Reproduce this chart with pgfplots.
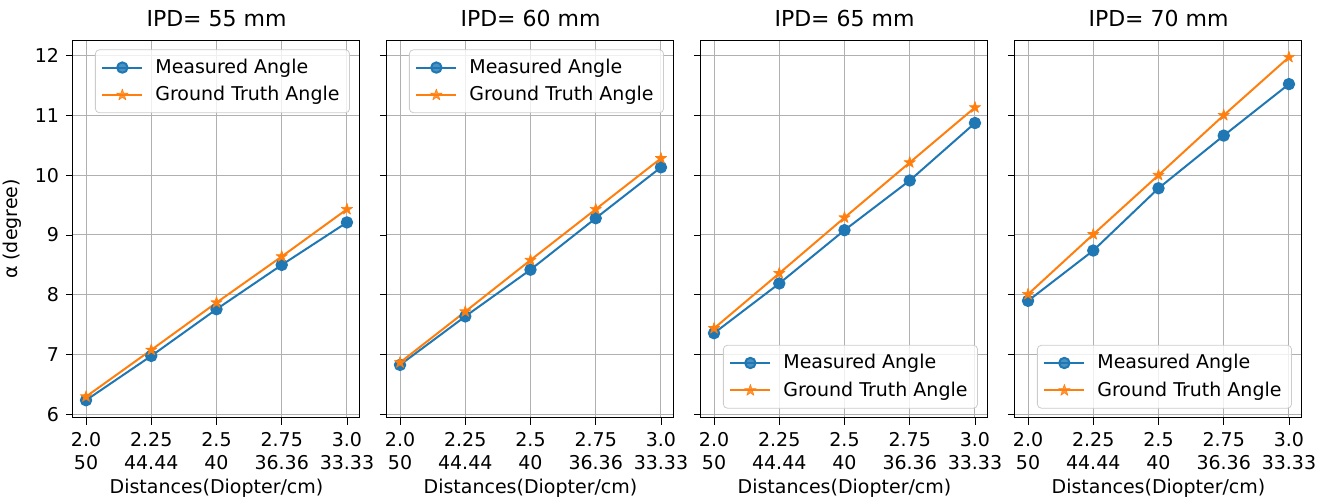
\documentclass[border=0pt]{standalone}
\usepackage{fontspec}
\setmainfont{DejaVu Sans}
\usepackage{pgfplots}
\pgfplotsset{compat=1.18}
\usepgfplotslibrary{groupplots}
\usetikzlibrary{calc}
\definecolor{mplblue}{HTML}{1F77B4}
\definecolor{mplorange}{HTML}{FF7F0E}
\newcommand{\fs}{\fontsize{9.5}{11.5}\selectfont}
\pgfdeclareplotmark{fstar}{%
  \pgfpathmoveto{\pgfpointpolar{90}{\pgfplotmarksize}}%
  \pgfpathlineto{\pgfpointpolar{126}{0.38\pgfplotmarksize}}%
  \pgfpathlineto{\pgfpointpolar{162}{\pgfplotmarksize}}%
  \pgfpathlineto{\pgfpointpolar{198}{0.38\pgfplotmarksize}}%
  \pgfpathlineto{\pgfpointpolar{234}{\pgfplotmarksize}}%
  \pgfpathlineto{\pgfpointpolar{270}{0.38\pgfplotmarksize}}%
  \pgfpathlineto{\pgfpointpolar{306}{\pgfplotmarksize}}%
  \pgfpathlineto{\pgfpointpolar{342}{0.38\pgfplotmarksize}}%
  \pgfpathlineto{\pgfpointpolar{18}{\pgfplotmarksize}}%
  \pgfpathlineto{\pgfpointpolar{54}{0.38\pgfplotmarksize}}%
  \pgfpathclose
  \pgfusepathqfillstroke}
\pgfplotsset{
  meas/.style={color=mplblue,line width=1pt,mark=*,mark size=2.6pt,mark options={solid,fill=mplblue}},
  gt/.style={color=mplorange,line width=1pt,mark=fstar,mark size=3pt,mark options={solid,fill=mplorange,line width=0.3pt}},
}
\begin{document}
\begin{tikzpicture}
\begin{groupplot}[
  group style={group size=4 by 1, horizontal sep=13.5pt, y descriptions at=edge left},
  scale only axis, width=143.5pt, height=189pt,
  xmin=1.95, xmax=3.05, ymin=5.943, ymax=12.257,
  xtick={2,2.25,2.5,2.75,3},
  xticklabels={{2.0\\50},{2.25\\44.44},{2.5\\40},{2.75\\36.36},{3.0\\33.33}},
  xticklabel style={align=center,font=\fs},
  ytick={6,7,8,9,10,11,12},
  yticklabel style={font=\fs},
  /pgf/number format/assume math mode=true,
  tick pos=left, tick align=outside, major tick length=3.5pt,
  tick style={black,line width=0.4pt},
  grid=major, major grid style={line width=0.5pt,draw=black!31},
  axis line style={line width=0.5pt},
  xlabel={Distances(Diopter/cm)},
  xlabel style={font=\fs,yshift=2pt},
  ylabel={α (degree)},
  ylabel style={font=\fs},
  title style={font=\fontsize{11}{13}\selectfont,at={(0.5,1)},anchor=base,yshift=1pt},
  legend style={font=\fs,draw=black!20,rounded corners=2pt,
    fill=white,fill opacity=0.8,text opacity=1,inner xsep=3pt,inner ysep=2.5pt,row sep=1pt,
    /tikz/column 1/.style={column sep=4pt}},
  legend cell align=left,
  legend image code/.code={\draw[mark repeat=2,mark phase=2] plot coordinates {(0pt,0pt) (10pt,0pt) (20pt,0pt)};},
  every axis plot/.append style={line join=round},
]
\nextgroupplot[title={IPD= 55 mm},legend style={at={(0.965,0.975)},anchor=north east}]
\addplot[meas] coordinates {(2.0,6.24) (2.25,6.98) (2.5,7.76) (2.75,8.50) (3.0,9.21)};
\addlegendentry{Measured Angle}
\addplot[gt] coordinates {(2.0,6.30) (2.25,7.08) (2.5,7.87) (2.75,8.64) (3.0,9.43)};
\addlegendentry{Ground Truth Angle}
\nextgroupplot[title={IPD= 60 mm},legend style={at={(0.965,0.975)},anchor=north east}]
\addplot[meas] coordinates {(2.0,6.83) (2.25,7.64) (2.5,8.42) (2.75,9.28) (3.0,10.13)};
\addlegendentry{Measured Angle}
\addplot[gt] coordinates {(2.0,6.87) (2.25,7.72) (2.5,8.58) (2.75,9.43) (3.0,10.28)};
\addlegendentry{Ground Truth Angle}
\nextgroupplot[title={IPD= 65 mm},legend style={at={(0.965,0.025)},anchor=south east}]
\addplot[meas] coordinates {(2.0,7.36) (2.25,8.19) (2.5,9.08) (2.75,9.91) (3.0,10.87)};
\addlegendentry{Measured Angle}
\addplot[gt] coordinates {(2.0,7.44) (2.25,8.36) (2.5,9.29) (2.75,10.21) (3.0,11.13)};
\addlegendentry{Ground Truth Angle}
\nextgroupplot[title={IPD= 70 mm},legend style={at={(0.965,0.025)},anchor=south east}]
\addplot[meas] coordinates {(2.0,7.90) (2.25,8.74) (2.5,9.78) (2.75,10.66) (3.0,11.52)};
\addlegendentry{Measured Angle}
\addplot[gt] coordinates {(2.0,8.01) (2.25,9.01) (2.5,10.00) (2.75,11.00) (3.0,11.97)};
\addlegendentry{Ground Truth Angle}
\end{groupplot}
\pgfresetboundingbox
\useasboundingbox ($(group c1r1.south west)+(-36.5pt,-43pt)$) rectangle ++(665pt,252pt);
\end{tikzpicture}
\end{document}
